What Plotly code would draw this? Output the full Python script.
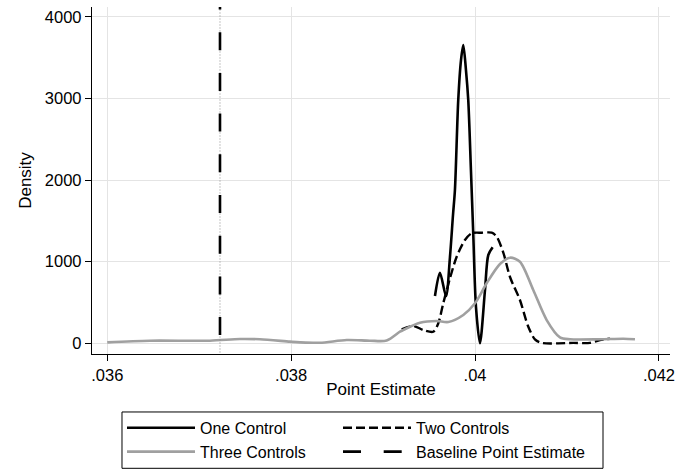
"""Kernel densities of the point estimate for one/two/three controls, with baseline estimate."""
import plotly.graph_objects as go

# ── Data ──
one_x = [0.039564, 0.039618, 0.039684, 0.039727, 0.039760, 0.039781, 0.039817, 0.039847,
         0.039872, 0.039901, 0.039926, 0.039955, 0.039980, 0.040010, 0.040053, 0.040108,
         0.040144, 0.040191]
one_y = [579, 865, 579, 1057, 1572, 1878, 2980, 3470,
         3654, 3348, 2980, 2123, 1351, 445, 0, 653,
         1082, 1176]

two_x = [0.039202, 0.039328, 0.039437, 0.039545, 0.039600, 0.039654, 0.039727, 0.039800,
         0.039890, 0.039963, 0.040072, 0.040181, 0.040235, 0.040307, 0.040380, 0.040488,
         0.040579, 0.040651, 0.040724, 0.041068, 0.041250, 0.041358, 0.041467]
two_y = [172, 212, 163, 142, 245, 490, 796, 1061,
         1265, 1348, 1355, 1355, 1306, 1112, 812, 530,
         203, 49, 5, 5, 5, 40, 56]

three_x = [0.036000, 0.036464, 0.037117, 0.037443, 0.037661, 0.037987, 0.038096, 0.038313,
           0.038604, 0.038857, 0.039039, 0.039183, 0.039219, 0.039401, 0.039582, 0.039709,
           0.039872, 0.039999, 0.040126, 0.040271, 0.040380, 0.040488, 0.040633, 0.040779,
           0.040923, 0.041032, 0.041358, 0.041612, 0.041739]
three_y = [12, 32, 32, 53, 49, 20, 12, 7,
           40, 32, 34, 142, 163, 252, 273, 261,
           347, 490, 735, 971, 1049, 1000, 653, 285,
           73, 49, 49, 56, 49]

baseline_x = 0.037226

x_ticks = [0.036, 0.038, 0.040, 0.042]
x_ticktext = ['.036', '.038', '.04', '.042']
y_ticks = [0, 1000, 2000, 3000, 4000]

X_RANGE = [0.035834, 0.042120]
Y_RANGE = [-131, 4120]

FONT = 'Liberation Sans, Arial, Helvetica, sans-serif'
GRID = '#e4e4e4'
GRAY = '#a0a0a0'

fig = go.Figure()

# left legend column: One / Three controls; right column: Two controls / baseline
fig.add_trace(go.Scatter(
    x=one_x, y=one_y, mode='lines', name='One Control', legend='legend',
    line=dict(color='black', width=2.6, shape='spline', smoothing=0.8),
))
fig.add_trace(go.Scatter(
    x=two_x, y=two_y, mode='lines', name='Two Controls', legend='legend2',
    line=dict(color='black', width=2.4, dash='9px,4px', shape='spline', smoothing=0.8),
))
fig.add_trace(go.Scatter(
    x=three_x, y=three_y, mode='lines', name='Three Controls', legend='legend',
    line=dict(color=GRAY, width=2.6, shape='spline', smoothing=0.8),
))

# baseline: thin dotted line underneath + long black dashes on top
# (starts a bit above the visible range so the dash phase lines up)
fig.add_trace(go.Scatter(
    x=[baseline_x, baseline_x], y=[Y_RANGE[1] + 190, Y_RANGE[0]], mode='lines',
    line=dict(color='#888888', width=1, dash='1px,2px'),
    showlegend=False, hoverinfo='skip',
))
fig.add_trace(go.Scatter(
    x=[baseline_x, baseline_x], y=[Y_RANGE[1] + 190, Y_RANGE[0]], mode='lines',
    name='Baseline Point Estimate', legend='legend2',
    line=dict(color='black', width=2.6, dash='18px,22.7px'),
))

leg_common = dict(
    orientation='v', yanchor='top', xanchor='left', y=-0.1640,
    bgcolor='rgba(0,0,0,0)', borderwidth=0, itemwidth=68,
    font=dict(family=FONT, size=16, color='black'),
)

fig.update_layout(
    width=678, height=469,
    paper_bgcolor='white', plot_bgcolor='white',
    font=dict(family=FONT, size=16, color='black'),
    margin=dict(l=92, r=8, t=7, b=115, autoexpand=False),
    showlegend=True,
    legend=dict(x=0.0519, **leg_common),
    legend2=dict(x=0.4256, **leg_common),
    xaxis=dict(
        range=X_RANGE, tickvals=x_ticks, ticktext=x_ticktext,
        showgrid=True, gridcolor=GRID, gridwidth=1, zeroline=False,
        showline=True, linecolor='black', linewidth=1.3,
        ticks='outside', ticklen=6, tickcolor='black',
        tickfont=dict(size=16.5), automargin=False,
        title=dict(text='Point Estimate', font=dict(size=17), standoff=0),
    ),
    yaxis=dict(
        range=Y_RANGE, tickvals=y_ticks,
        showgrid=True, gridcolor=GRID, gridwidth=1, zeroline=False,
        showline=True, linecolor='black', linewidth=1.3,
        ticks='outside', ticklen=6, tickcolor='black',
        tickfont=dict(size=16.5), automargin=False,
        title=dict(text='Density', font=dict(size=17), standoff=8),
    ),
)

# frame around the two legend columns
fig.add_shape(
    type='rect', xref='paper', yref='paper',
    x0=0.0519, x1=0.8841, y0=-0.3294, y1=-0.1671,
    line=dict(color='black', width=1), fillcolor='rgba(0,0,0,0)', layer='above',
)

# the page body has a default 8px margin; drop it so the figure sits at 0,0
fig.write_html('out.html', config={'displayModeBar': False},
               post_script="document.body.style.margin='0px';")
